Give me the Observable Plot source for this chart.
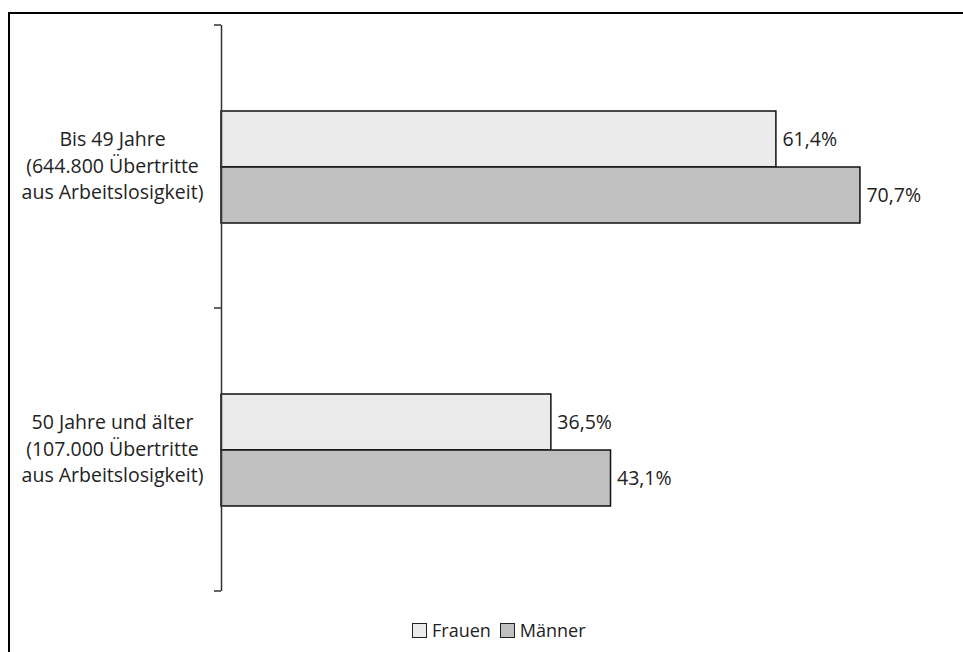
<!DOCTYPE html>
<html>
<head>
<meta charset="utf-8">
<script src="https://cdn.jsdelivr.net/npm/d3@7"></script>
<script src="https://cdn.jsdelivr.net/npm/@observablehq/plot@0.6"></script>
<style>
  html, body { margin: 0; padding: 0; background: #fff; }
  #wrap { position: relative; width: 963px; height: 652px; overflow: hidden; font-family: "Open Sans", sans-serif; }
  #frame { position: absolute; left: 8px; top: 12px; width: 2000px; height: 2000px; border-top: 2px solid #000; border-left: 2px solid #000; pointer-events: none; }
  #chart { position: absolute; left: 0; top: 0; }
  #legend { position: absolute; left: 0; top: 618px; width: 963px; height: 24px; display: flex; align-items: center; padding-left: 412px; box-sizing: border-box; font-size: 18px; color: #222; }
  .sw { display: inline-block; width: 15px; height: 15px; border: 1.5px solid #222; margin-right: 5px; box-sizing: border-box; }
  .item { display: inline-flex; align-items: center; margin-right: 9px; }
</style>
</head>
<body>
<div id="wrap">
  <div id="chart"></div>
  <div id="frame"></div>
  <div id="legend"></div>
</div>
<script>
const categories = [
  "Bis 49 Jahre\n(644.800 Übertritte\naus Arbeitslosigkeit)",
  "50 Jahre und älter\n(107.000 Übertritte\naus Arbeitslosigkeit)"
];
const series = ["Frauen", "Männer"];
const frauen = [61.4, 36.5];
const maenner = [70.7, 43.1];
const colors = ["#ebebeb", "#c0c0c0"];

const data = [];
categories.forEach((c, i) => {
  data.push({cat: c, s: series[0], v: frauen[i]});
  data.push({cat: c, s: series[1], v: maenner[i]});
});

const fmt = v => v.toFixed(1).replace(".", ",") + "%";

const plot = Plot.plot({
  width: 963,
  height: 610,
  marginLeft: 221,
  marginRight: 19,
  marginTop: 25,
  marginBottom: 19,
  style: {fontFamily: "'Open Sans', sans-serif", fontSize: "19px", color: "#222", background: "transparent"},
  x: {domain: [0, 80], axis: null},
  fy: {domain: categories, padding: 0, axis: null},
  y: {domain: series, paddingInner: 0, paddingOuter: 1.5, axis: null},
  color: {domain: series, range: colors},
  marks: [
    Plot.barX(data, {fy: "cat", y: "s", x: "v", fill: "s", stroke: "#111", strokeWidth: 1.5, insetTop: 0, insetBottom: 0}),
    Plot.text(data, {fy: "cat", y: "s", x: "v", text: d => fmt(d.v), textAnchor: "start", dx: 6, fontSize: 19.5, fill: "#222"}),
    Plot.ruleX([0], {stroke: "#333", strokeWidth: 1.5}),
    Plot.text(categories, {fy: d => d, text: d => d, frameAnchor: "left", textAnchor: "middle", dx: -109, dy: -3, lineHeight: 1.37, fontSize: 19.5, fill: "#222"})
  ]
});
document.getElementById("chart").appendChild(plot);

// axis ticks at category band boundaries, positioned via Plot's own scales
const fy = plot.scale("fy");
const x = plot.scale("x");
const x0 = x.apply(0);
const bounds = categories.map(c => fy.apply(c)).concat([fy.apply(categories[categories.length - 1]) + fy.bandwidth]);
const svg = d3.select(plot);
svg.append("g").selectAll("line").data(bounds).join("line")
  .attr("x1", x0 - 7).attr("x2", x0)
  .attr("y1", d => d).attr("y2", d => d)
  .attr("stroke", "#333").attr("stroke-width", 1.5);

// legend
const lg = d3.select("#legend");
series.forEach((s, i) => {
  const it = lg.append("span").attr("class", "item");
  it.append("span").attr("class", "sw").style("background", colors[i]);
  it.append("span").text(s);
});
</script>
</body>
</html>
